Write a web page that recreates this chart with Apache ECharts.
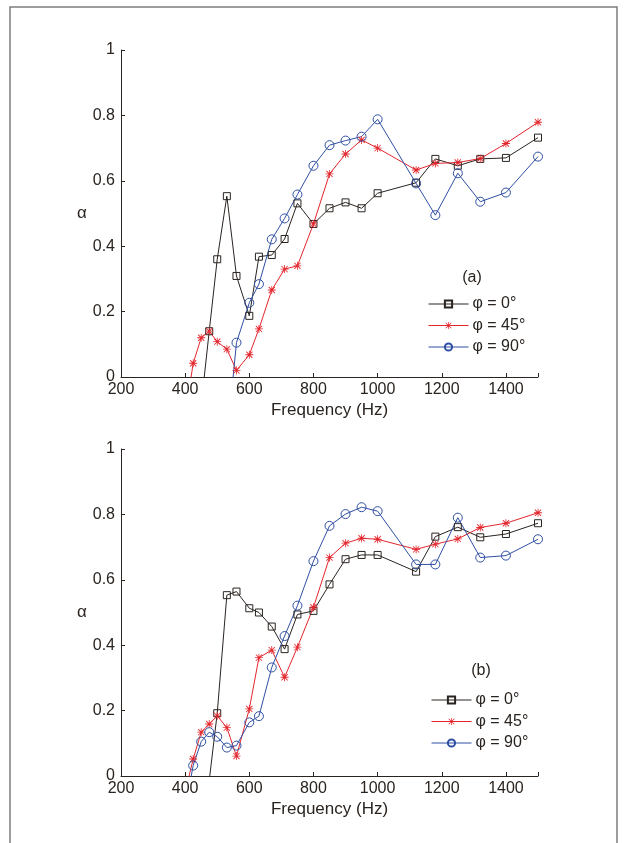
<!DOCTYPE html>
<html><head><meta charset="utf-8">
<script src="https://cdn.jsdelivr.net/npm/echarts@6/dist/echarts.min.js"></script>
<style>html,body{margin:0;padding:0;background:#fff}#c{width:629px;height:843px}</style>
</head><body><div id="c"></div><script>
const freq = [400,425,450,475,500,530,560,600,630,670,710,750,800,850,900,950,1000,1120,1180,1250,1320,1400,1500];
const xTicks = [200,400,600,800,1000,1200,1400];
const yTicks = [0,0.2,0.4,0.6,0.8,1];
const seriesNames = ['φ = 0°','φ = 45°','φ = 90°'];
const panelLabels = ['(a)','(b)'];
// panel (a)
const topBlack = [null,null,-0.086,0.14,0.36,0.553,0.309,0.187,0.368,0.373,0.422,0.531,0.468,0.516,0.534,0.516,0.562,0.594,0.667,0.646,0.667,0.67,0.732];
const topRed   = [-0.12,0.042,0.12,0.14,0.108,0.085,0.02,0.068,0.147,0.266,0.33,0.34,0.468,0.621,0.682,0.725,0.70,0.633,0.653,0.656,0.668,0.714,0.779];
const topBlue  = [null,null,null,null,null,-0.195,0.105,0.227,0.284,0.421,0.485,0.558,0.646,0.709,0.723,0.735,0.788,0.592,0.495,0.623,0.536,0.564,0.674];
// panel (b)
const botBlack = [null,null,-0.22,null,0.192,0.553,0.564,0.513,0.50,0.457,0.388,0.494,0.505,0.586,0.663,0.676,0.676,0.625,0.732,0.761,0.73,0.74,0.773];
const botRed   = [-0.05,0.052,0.134,0.159,0.184,0.148,0.061,0.205,0.362,0.385,0.302,0.394,0.516,0.668,0.712,0.727,0.724,0.693,0.709,0.725,0.76,0.773,0.805];
const botBlue  = [-0.10,0.032,0.105,0.134,0.12,0.087,0.093,0.164,0.183,0.332,0.428,0.521,0.657,0.765,0.801,0.822,0.81,0.647,0.647,0.79,0.668,0.674,0.724];

const FONT = 'Liberation Sans, Arial, sans-serif';
const TXT = '#2a2420';
const cBlack = '#2a2420', cRed = '#e3262d', cBlue = '#2f4fa3';
const star = 'path://M9 0L11 0L11 20L9 20ZM0 9L20 9L20 11L0 11ZM1.5 3L3 1.5L18.5 17L17 18.5ZM17 1.5L18.5 3L3 18.5L1.5 17Z';

function pairs(vals){ const out=[]; vals.forEach((v,i)=>{ if(v!==null) out.push([freq[i],v]); }); return out; }

const grids = [{left:121, top:50, width:417, height:327},{left:121, top:449, width:417, height:327}];
const xAxes = grids.map((g,i)=>({
  type:'value', gridIndex:i, min:200, max:1500, interval:200,
  name:'Frequency (Hz)', nameLocation:'middle', nameGap:25,
  nameTextStyle:{fontFamily:FONT, fontSize:17, color:TXT},
  axisLine:{lineStyle:{color:cBlack, width:1}},
  axisTick:{inside:true, length:4, lineStyle:{color:cBlack}},
  axisLabel:{fontFamily:FONT, fontSize:16, color:TXT, margin:5,
    formatter:v=> xTicks.indexOf(v)>=0 ? String(v) : ''},
  splitLine:{show:false}
}));
const yAxes = grids.map((g,i)=>({
  type:'value', gridIndex:i, min:0, max:1, interval:0.2,
  name:'α', nameLocation:'middle', nameRotate:0, nameGap:27,
  nameTextStyle:{fontFamily:FONT, fontSize:17, color:TXT},
  axisLine:{show:true, lineStyle:{color:cBlack, width:1}},
  axisTick:{show:true, inside:true, length:4, lineStyle:{color:cBlack}},
  axisLabel:{fontFamily:FONT, fontSize:16, color:TXT, margin:6,
    formatter:v=>{ const r=Math.round(v*10)/10; return yTicks.indexOf(r)>=0 ? String(r) : ''; }},
  splitLine:{show:false}
}));

function mk(name, idx, vals, color, symbol, size, filled){
  return {
    name, type:'line', xAxisIndex:idx, yAxisIndex:idx, data:pairs(vals),
    symbol, symbolSize:size, showAllSymbol:true, clip:true, silent:true,
    lineStyle:{color, width:1},
    itemStyle: filled ? {color, borderWidth:0} : {color:'rgba(255,255,255,0)', borderColor:color, borderWidth:1},
    emphasis:{disabled:true}
  };
}
const series = [
  mk(seriesNames[0],0,topBlack,cBlack,'rect',7,false),
  mk(seriesNames[1],0,topRed,cRed,star,8,true),
  mk(seriesNames[2],0,topBlue,cBlue,'circle',9,false),
  mk(seriesNames[0],1,botBlack,cBlack,'rect',7,false),
  mk(seriesNames[1],1,botRed,cRed,star,8,true),
  mk(seriesNames[2],1,botBlue,cBlue,'circle',9,false)
];
const legendBase = {orient:'vertical', selectedMode:false, itemWidth:40, itemHeight:9, itemGap:5.5, padding:0,
  lineStyle:{width:1},
  textStyle:{fontFamily:FONT, fontSize:16, color:TXT, padding:[0,0,0,-1]}, data:seriesNames};
const chart = echarts.init(document.getElementById('c'), null, {renderer:'canvas'});
chart.setOption({
  animation:false, backgroundColor:'#fff',
  grid:grids, xAxis:xAxes, yAxis:yAxes, series,
  legend:[Object.assign({left:428, top:296}, legendBase), Object.assign({left:431, top:692}, legendBase)],
  graphic:[
    {type:'rect', shape:{x:10,y:7,width:607,height:860}, style:{fill:'none', stroke:'#7d7d7d', lineWidth:1.5}, silent:true},
    {type:'text', style:{text:panelLabels[0], x:472, y:278, align:'center', verticalAlign:'middle', font:'16px '+FONT, fill:TXT}},
    {type:'text', style:{text:panelLabels[1], x:481, y:671, align:'center', verticalAlign:'middle', font:'16px '+FONT, fill:TXT}}
  ]
});
</script></body></html>
